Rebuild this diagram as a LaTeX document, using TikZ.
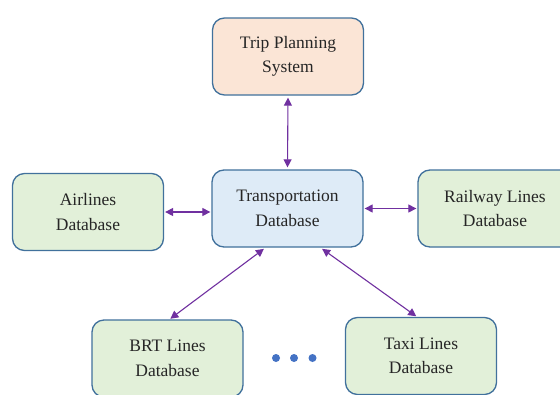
\documentclass[tikz,border=0pt]{standalone}
\usepackage{fontspec}
\newfontfamily\timesx[Extension=.ttf, UprightFont=LiberationSerif-Regular]{LiberationSerif-Regular}
\usetikzlibrary{arrows.meta}
\definecolor{bordc}{HTML}{41719C}
\definecolor{peach}{HTML}{FBE5D6}
\definecolor{lblue}{HTML}{DEEBF7}
\definecolor{lgreen}{HTML}{E2F0D9}
\definecolor{arrc}{HTML}{7030A0}
\definecolor{dotc}{HTML}{4472C4}
\begin{document}
\begin{tikzpicture}[x=1pt,y=-1pt,
  box/.style={draw=bordc, line width=1.3pt, rounded corners=12pt, minimum width=151pt, minimum height=77pt, align=center, inner sep=0pt, font=\timesx\fontsize{17.5}{24.5}\selectfont, text=black!85},
  conn/.style={draw=arrc, line width=1.1pt, {Triangle[length=8pt,width=8pt]}-{Triangle[length=8pt,width=8pt]}},
  dotn/.style={circle, fill=dotc, inner sep=0pt, minimum size=8pt}]
\clip (0,0) rectangle (560,394);
\fill[white] (0,0) rectangle (560,394);
\node[box, fill=peach] (trip) at (288,56.5) {Trip Planning\\System};
\node[box, fill=lblue] (trans) at (287.5,208.5) {Transportation\\Database};
\node[box, fill=lgreen] (air) at (88,212) {Airlines\\Database};
\node[box, fill=lgreen, minimum width=154pt] (rail) at (495,208.5) {Railway Lines\\Database};
\node[box, fill=lgreen] (brt) at (167.5,358.5) {BRT Lines\\Database};
\node[box, fill=lgreen] (taxi) at (421,356) {Taxi Lines\\Database};
\node[dotn] (d1) at (276,358) {};
\node[dotn] (d2) at (294,358) {};
\node[dotn] (d3) at (312.5,358) {};
\draw[conn, shorten <=2pt, shorten >=2pt] (trip.south) -- (trans.north);
\draw[conn, shorten <=1pt, shorten >=1pt] (air.east) -- (air.east -| trans.west);
\draw[conn, shorten <=1pt, shorten >=1pt] (trans.east) -- (trans.east -| rail.west);
\draw[conn, shorten <=2pt, shorten >=1pt] ([xshift=-22pt]trans.south) -- ([xshift=2pt]brt.north);
\draw[conn, shorten <=2pt, shorten >=1pt] ([xshift=33pt]trans.south) -- ([xshift=-4pt]taxi.north);
\end{tikzpicture}
\end{document}
